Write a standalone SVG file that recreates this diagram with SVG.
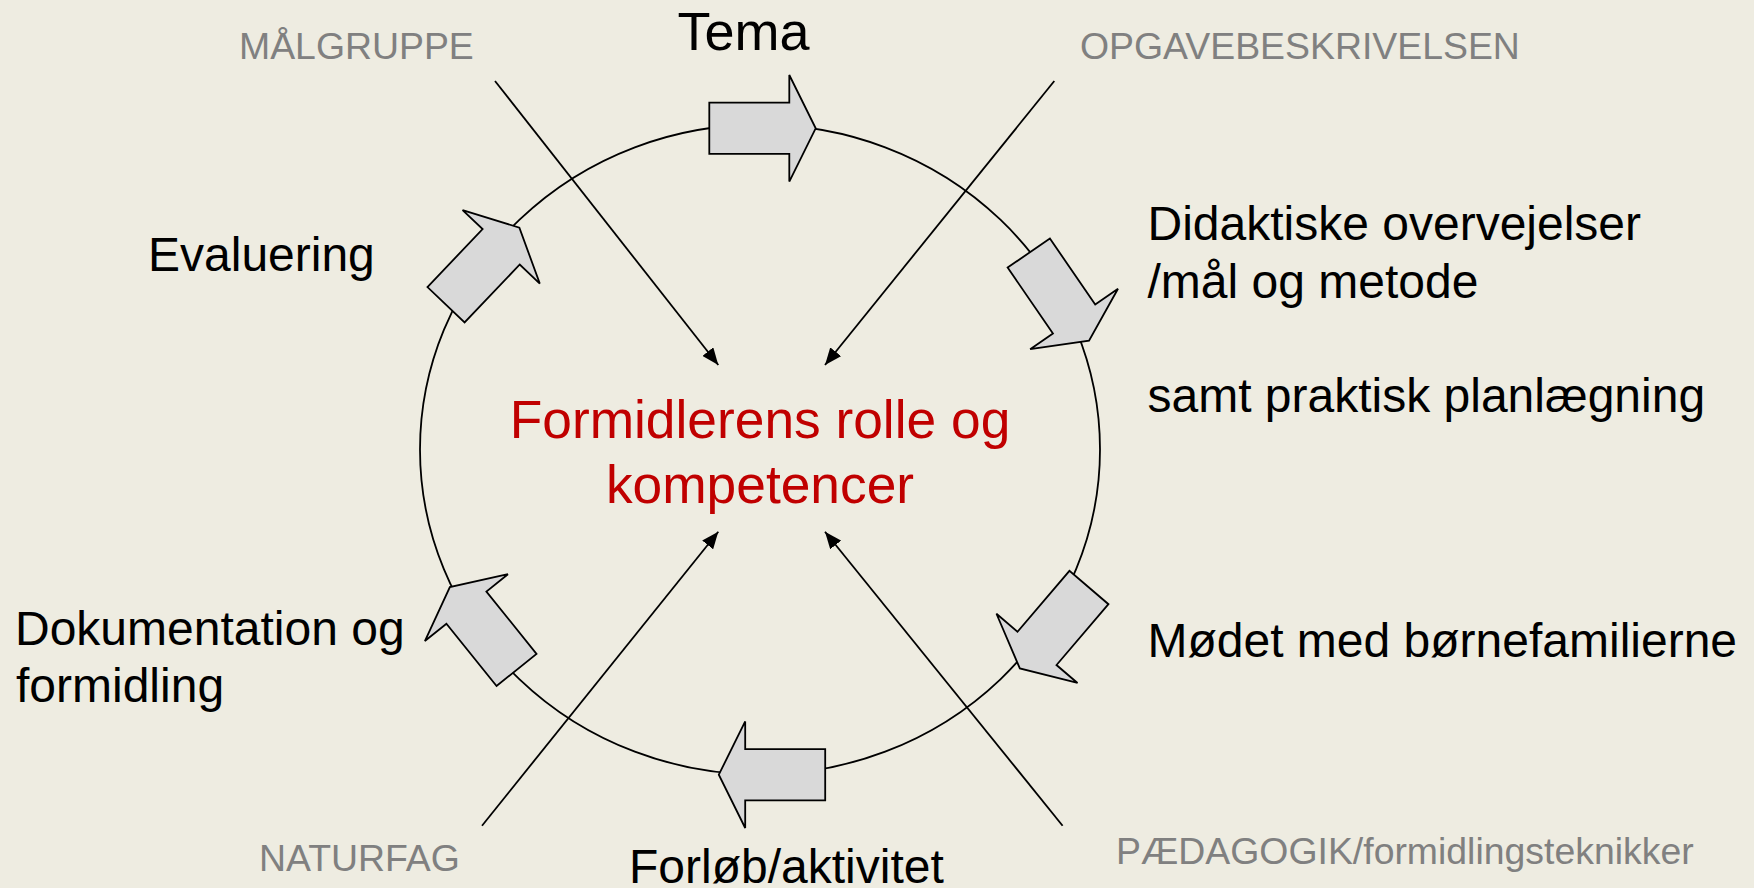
<svg xmlns="http://www.w3.org/2000/svg" xmlns:xlink="http://www.w3.org/1999/xlink" width="1754" height="888" viewBox="0 0 1754 888">
<style>
text{font-family:"Liberation Sans",Arial,Helvetica,sans-serif}
.lbl{font-size:48px;fill:#000}
.grey{font-size:37.4px;fill:#808080}
.core{font-size:53.3px;fill:#C00000}
.step{fill:#D9D9D9;stroke:#000;stroke-width:1.8;stroke-linejoin:miter}
.ring{fill:none;stroke:#000;stroke-width:1.8}
.conn{fill:none;stroke:#000;stroke-width:1.8}
</style>
<defs>
<path id="stepArrow" d="M-53.2,-25.65 H26.8 V-53.3 L53.2,0 L26.8,53.3 V25.65 H-53.2 Z"/>
<marker id="tri" markerUnits="userSpaceOnUse" markerWidth="18" markerHeight="14" refX="17" refY="7" orient="auto">
<path d="M0,0 L17,7 L0,14 Z" fill="#000"/>
</marker>
</defs>
<rect x="0" y="0" width="1754" height="888" fill="#EEECE1"/>
<g id="cycle-ring">
<ellipse class="ring" cx="760" cy="449.5" rx="340" ry="325"/>
</g>
<g id="connectors">
<line class="conn" x1="495" y1="81" x2="718.3" y2="365" marker-end="url(#tri)"/>
<line class="conn" x1="1054.3" y1="81" x2="825" y2="365" marker-end="url(#tri)"/>
<line class="conn" x1="482" y1="825.7" x2="718.3" y2="531.7" marker-end="url(#tri)"/>
<line class="conn" x1="1062.6" y1="825.7" x2="825" y2="531.7" marker-end="url(#tri)"/>
</g>
<g id="step-tema">
<use xlink:href="#stepArrow" class="step" transform="translate(762.5,128.3)"/>
<text class="lbl" x="677.5" y="50" style="font-size:54px">Tema</text>
</g>
<g id="step-didaktik">
<use xlink:href="#stepArrow" class="step" transform="translate(1058.9,296.9) rotate(55.5)"/>
<text class="lbl" x="1147.5" y="240">Didaktiske overvejelser</text>
<text class="lbl" x="1147.5" y="297.5">/mål og metode</text>
<text class="lbl" x="1147.5" y="412">samt praktisk planlægning</text>
</g>
<g id="step-moedet">
<use xlink:href="#stepArrow" class="step" transform="translate(1054.4,628) rotate(130.5)"/>
<text class="lbl" x="1147.5" y="657">Mødet med børnefamilierne</text>
</g>
<g id="step-forloeb">
<use xlink:href="#stepArrow" class="step" transform="translate(772,774.7) rotate(180)"/>
<text class="lbl" x="629" y="882.5">Forløb/aktivitet</text>
</g>
<g id="step-dokumentation">
<use xlink:href="#stepArrow" class="step" transform="translate(483.2,628.5) rotate(231.2)"/>
<text class="lbl" x="15" y="645">Dokumentation og</text>
<text class="lbl" x="16" y="701.7">formidling</text>
</g>
<g id="step-evaluering">
<use xlink:href="#stepArrow" class="step" transform="translate(482.7,266.2) rotate(-46.4)"/>
<text class="lbl" x="148" y="270.7">Evaluering</text>
</g>
<g id="node-center">
<text class="core" x="760" y="438.3" text-anchor="middle">Formidlerens rolle og</text>
<text class="core" x="760" y="503.3" text-anchor="middle">kompetencer</text>
</g>
<g id="node-maalgruppe">
<text class="grey" x="239" y="59.3">MÅLGRUPPE</text>
</g>
<g id="node-opgave">
<text class="grey" x="1080" y="59.3">OPGAVEBESKRIVELSEN</text>
</g>
<g id="node-naturfag">
<text class="grey" x="259" y="870.7">NATURFAG</text>
</g>
<g id="node-paedagogik">
<text class="grey" x="1116" y="864">PÆDAGOGIK/formidlingsteknikker</text>
</g>
</svg>
